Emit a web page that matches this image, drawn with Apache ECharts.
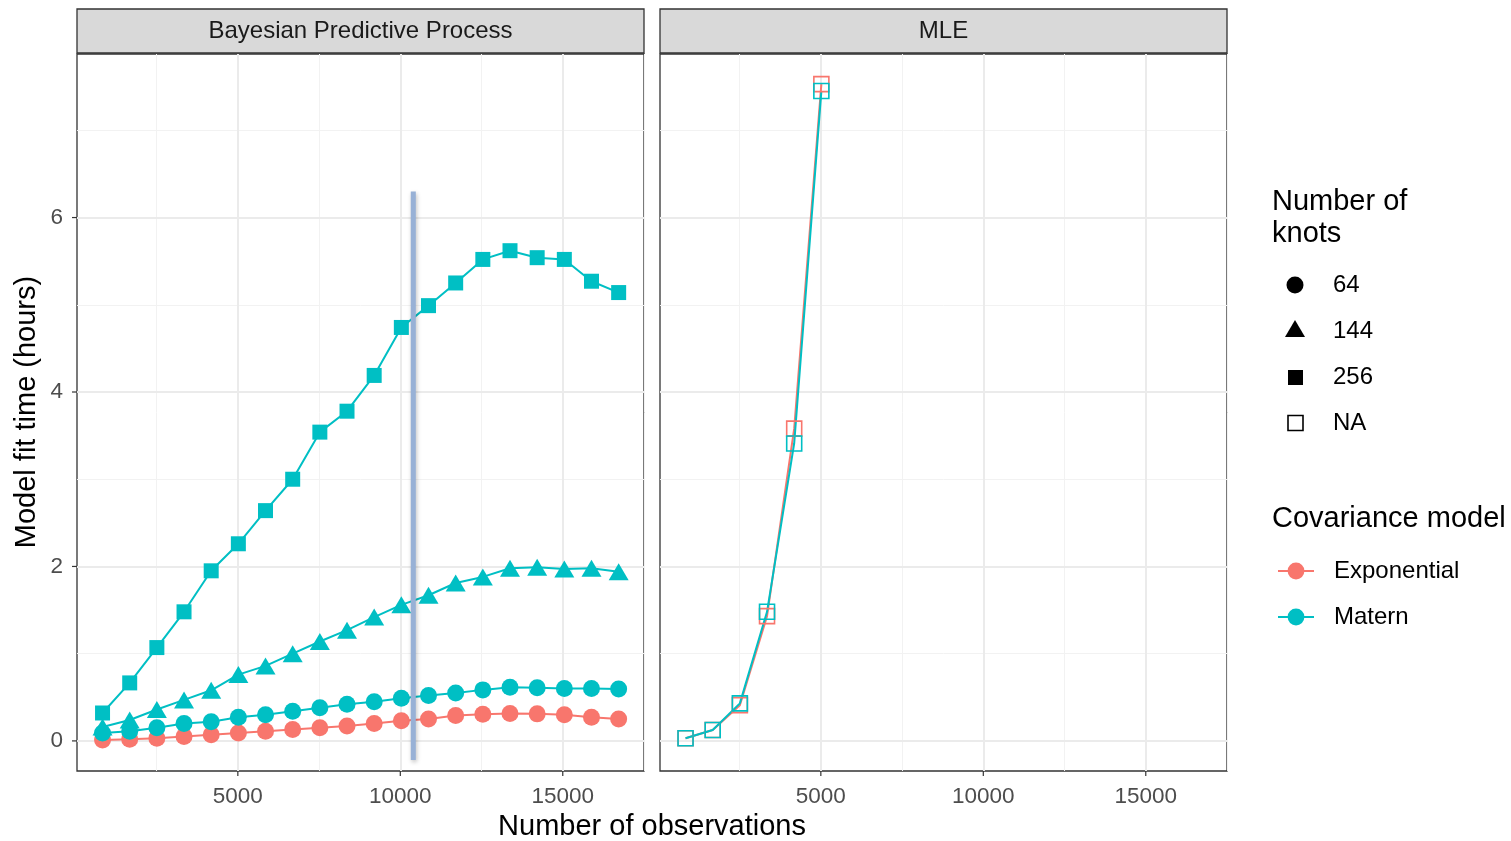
<!DOCTYPE html>
<html>
<head>
<meta charset="utf-8">
<script src="https://cdn.jsdelivr.net/npm/echarts@6/dist/echarts.min.js"></script>
<style>
  html, body { margin: 0; padding: 0; background: #fff; }
  #chart { width: 1511px; height: 841px; }
</style>
</head>
<body>
<div id="chart"></div>
<script>
// number of observations (x) for each fit
const obsBPP = [836, 1672, 2508, 3344, 4180, 5016, 5852, 6688, 7524, 8360,
  9196, 10032, 10868, 11704, 12540, 13376, 14212, 15048, 15884, 16720];
const obsMLE = [836, 1672, 2508, 3344, 4180, 5016];

// Bayesian predictive process, fit time in hours
const expo64 = [0.01, 0.02, 0.03, 0.05, 0.07, 0.09, 0.11, 0.13, 0.15, 0.17,
  0.20, 0.23, 0.25, 0.29, 0.305, 0.315, 0.31, 0.30, 0.27, 0.25];
const matern64 = [0.09, 0.11, 0.15, 0.20, 0.22, 0.27, 0.30, 0.34, 0.38, 0.42,
  0.45, 0.49, 0.52, 0.55, 0.585, 0.615, 0.61, 0.60, 0.60, 0.595];
const matern144 = [0.16, 0.24, 0.36, 0.47, 0.58, 0.76, 0.86, 1.00, 1.14, 1.27,
  1.42, 1.56, 1.67, 1.81, 1.88, 1.98, 1.99, 1.97, 1.98, 1.94];
const matern256 = [0.32, 0.665, 1.07, 1.48, 1.95, 2.26, 2.64, 3.00, 3.54, 3.78,
  4.19, 4.74, 4.99, 5.25, 5.52, 5.62, 5.54, 5.52, 5.27, 5.14];

// MLE, fit time in hours
const mleExpo = [0.03, 0.125, 0.41, 1.43, 3.58, 7.53];
const mleMatern = [0.03, 0.125, 0.43, 1.48, 3.41, 7.45];

// highlighted cut-off in the left panel
const cutX = 10400;
const cutSpan = [-0.22, 6.3];

const xTicks = [5000, 10000, 15000];
const xMinor = [2500, 7500, 12500, 17500];
const yTicks = [0, 2, 4, 6];
const yMinor = [1, 3, 5, 7];
const xRange = [50, 17500];
const yRange = [-0.345, 7.875];

const RED = '#F8766D';
const TEAL = '#00BFC4';
const FONT = '"Liberation Sans", Arial, Helvetica, sans-serif';

function zip (xs, ys) {
  return ys.map((y, i) => [xs[i], y]);
}

// panel grid lines, kept under the data (markLine defaults to z 5)
function gridSeries (idx) {
  const major = { color: '#EBEBEB', width: 2, type: 'solid' };
  const minor = { color: '#F2F2F2', width: 1, type: 'solid' };
  const lines = []
    .concat(xMinor.map(v => ({ xAxis: v, lineStyle: minor })))
    .concat(yMinor.map(v => ({ yAxis: v, lineStyle: minor })))
    .concat(xTicks.map(v => ({ xAxis: v, lineStyle: major })))
    .concat(yTicks.map(v => ({ yAxis: v, lineStyle: major })));
  return {
    type: 'line',
    xAxisIndex: idx,
    yAxisIndex: idx,
    z: 1,
    silent: true,
    data: [],
    markLine: {
      z: 1,
      silent: true,
      symbol: ['none', 'none'],
      label: { show: false },
      animation: false,
      data: lines
    }
  };
}

function pointSeries (name, idx, xs, ys, color, symbol, size, hollow) {
  return {
    name: name,
    type: 'line',
    xAxisIndex: idx,
    yAxisIndex: idx,
    z: 3,
    data: zip(xs, ys),
    symbol: symbol,
    symbolSize: size,
    showSymbol: true,
    lineStyle: { color: color, width: 2 },
    itemStyle: hollow
      ? { color: 'rgba(0,0,0,0)', borderColor: color, borderWidth: 1.6 }
      : { color: color, borderWidth: 0 },
    emphasis: { disabled: true },
    animation: false
  };
}

function xAxisFor (idx) {
  return {
    type: 'value',
    gridIndex: idx,
    min: xRange[0],
    max: xRange[1],
    axisLine: { show: false },
    splitLine: { show: false },
    axisTick: { show: false },
    axisLabel: {
      customValues: xTicks,
      formatter: v => String(v),
      fontSize: 22.5,
      color: '#4D4D4D',
      fontFamily: FONT,
      margin: 14
    }
  };
}

function legendFor (name, top) {
  return {
    orient: 'vertical',
    left: 1277,
    top: top,
    padding: 0,
    itemWidth: 36,
    itemHeight: 21,
    selectedMode: false,
    data: [name],
    textStyle: { fontSize: 24, color: '#000', fontFamily: FONT, padding: [0, 0, 0, 15] }
  };
}

const chart = echarts.init(document.getElementById('chart'));

chart.setOption({
  animation: false,
  textStyle: { fontFamily: FONT },
  grid: [
    { left: 77, top: 54, width: 567, height: 717, show: true, borderColor: '#333', borderWidth: 1.3, backgroundColor: '#fff' },
    { left: 660, top: 54, width: 567, height: 717, show: true, borderColor: '#333', borderWidth: 1.3, backgroundColor: '#fff' }
  ],
  xAxis: [xAxisFor(0), xAxisFor(1)],
  yAxis: [
    {
      type: 'value',
      gridIndex: 0,
      min: yRange[0],
      max: yRange[1],
      axisLine: { show: false },
      splitLine: { show: false },
      axisTick: { show: false },
      axisLabel: {
        customValues: yTicks,
        fontSize: 22.5,
        color: '#4D4D4D',
        fontFamily: FONT,
        margin: 14
      }
    },
    {
      type: 'value',
      gridIndex: 1,
      min: yRange[0],
      max: yRange[1],
      axisLine: { show: false },
      splitLine: { show: false },
      axisTick: { show: false },
      axisLabel: { show: false }
    }
  ],
  legend: [legendFor('Exponential', 559), legendFor('Matern', 605)],
  series: [
    gridSeries(0),
    gridSeries(1),
    pointSeries('Exponential', 0, obsBPP, expo64, RED, 'circle', 17, false),
    pointSeries('Matern', 0, obsBPP, matern64, TEAL, 'circle', 17, false),
    pointSeries('Matern', 0, obsBPP, matern144, TEAL, 'triangle', [20, 17], false),
    pointSeries('Matern', 0, obsBPP, matern256, TEAL, 'rect', 15, false),
    pointSeries('Exponential', 1, obsMLE, mleExpo, RED, 'rect', 15, true),
    pointSeries('Matern', 1, obsMLE, mleMatern, TEAL, 'rect', 15, true),
    {
      type: 'line',
      xAxisIndex: 0,
      yAxisIndex: 0,
      z: 5,
      silent: true,
      symbol: 'none',
      data: cutSpan.map(v => [cutX, v]),
      lineStyle: {
        color: '#98B1D6',
        width: 5,
        shadowBlur: 4,
        shadowColor: 'rgba(0,0,0,0.25)',
        shadowOffsetX: 1,
        shadowOffsetY: 2
      },
      animation: false
    }
  ]
});

// axis ticks placed through the axes' own scales
const tickStyle = { stroke: '#333', lineWidth: 1.2 };
const ticks = [];
[0, 1].forEach(g => {
  xTicks.forEach(v => {
    const px = chart.convertToPixel({ xAxisIndex: g }, v);
    ticks.push({ type: 'line', shape: { x1: px, y1: 771, x2: px, y2: 776 }, style: tickStyle });
  });
});
yTicks.forEach(v => {
  const py = chart.convertToPixel({ yAxisIndex: 0 }, v);
  ticks.push({ type: 'line', shape: { x1: 72, y1: py, x2: 77, y2: py }, style: tickStyle });
});

const txt = (x, y, text, size, extra) => Object.assign({
  type: 'text', x: x, y: y,
  style: Object.assign({ text: text, fontSize: size, fill: '#000', fontFamily: FONT, verticalAlign: 'middle' }, extra || {})
});

chart.setOption({
  graphic: ticks.concat([
    // facet strips
    { type: 'rect', z: 10, shape: { x: 77, y: 9, width: 567, height: 44 },
      style: { fill: '#D9D9D9', stroke: '#333', lineWidth: 1.3 } },
    Object.assign(txt(360.5, 31, 'Bayesian Predictive Process', 24, { fill: '#1A1A1A', align: 'center' }), { z: 11 }),
    { type: 'rect', z: 10, shape: { x: 660, y: 9, width: 567, height: 44 },
      style: { fill: '#D9D9D9', stroke: '#333', lineWidth: 1.3 } },
    Object.assign(txt(943.5, 31, 'MLE', 24, { fill: '#1A1A1A', align: 'center' }), { z: 11 }),
    // axis titles
    txt(652, 827, 'Number of observations', 29, { align: 'center' }),
    Object.assign(txt(27, 412, 'Model fit time (hours)', 29, { align: 'center' }), { rotation: Math.PI / 2 }),
    // knots legend
    txt(1272, 186, 'Number of\nknots', 29, { lineHeight: 32, verticalAlign: 'top' }),
    { type: 'circle', shape: { cx: 1295, cy: 285, r: 8.5 }, style: { fill: '#000' } },
    { type: 'polygon', shape: { points: [[1295, 320], [1305, 337], [1285, 337]] }, style: { fill: '#000' } },
    { type: 'rect', shape: { x: 1288, y: 370, width: 15, height: 15 }, style: { fill: '#000' } },
    { type: 'rect', shape: { x: 1288, y: 415.5, width: 15, height: 15 }, style: { fill: 'none', stroke: '#000', lineWidth: 1.6 } },
    txt(1333, 285, '64', 24),
    txt(1333, 331, '144', 24),
    txt(1333, 377, '256', 24),
    txt(1333, 423, 'NA', 24),
    // covariance legend title
    txt(1272, 519, 'Covariance model', 29)
  ])
});
</script>
</body>
</html>
